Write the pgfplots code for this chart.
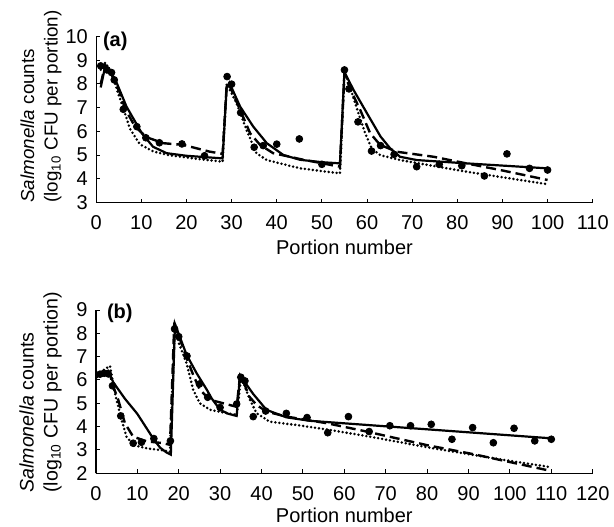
\documentclass[border=0pt]{standalone}
\usepackage{fontspec}
\setmainfont{Liberation Sans}
\usepackage{pgfplots}
\pgfplotsset{compat=1.18}
\begin{document}
\begin{tikzpicture}
\path[use as bounding box] (0,0) rectangle (307pt,263pt);
\pgfplotsset{
  myax/.style={
    scale only axis, axis lines=left,
    axis line style={-, line width=0.6pt, black},
    tick align=inside, major tick length=2pt,
    tick style={line width=0.5pt, black},
    /pgf/number format/assume math mode=true,
    xticklabel style={inner sep=0pt, yshift=-6.25pt},
    yticklabel style={inner sep=0pt, xshift=-4pt},
    xlabel={Portion number},
    ylabel={\textit{Salmonella} counts\\(log\textsubscript{10} CFU per portion)},
    clip=false,
  },
  fitA/.style={black, line width=1.1pt},
  fitB/.style={black, line width=1.2pt, dash pattern=on 5pt off 2.5pt},
  fitC/.style={black, line width=1.4pt, line cap=round, dash pattern=on 0pt off 2pt},
  obs/.style={only marks, mark=*, mark size=1.7pt, black},
}
% ---------------- panel (a)
\begin{axis}[myax,
  at={(48.1pt,161.75pt)}, anchor=south west,
  width=248.25pt, height=83pt,
  xmin=0, xmax=110, ymin=3, ymax=10,
  xtick={0,10,...,110}, ytick={3,4,...,10},
  xlabel style={at={(axis description cs:0.5,-0.226)}, anchor=north, inner sep=0pt},
  ylabel style={at={(axis description cs:-0.0689,-0.003)}, anchor=south west, align=left, inner sep=0pt, font=\fontsize{9.4}{11.8}\selectfont},
]
\addplot[fitA] coordinates {(1,7.85)(2,8.75)(4.2,8.2)(6.7,7.05)(10.1,5.92)(12.6,5.35)(15.6,5.08)(20,4.97)(28,4.86)
 (28.9,7.85)(29.5,8.05)(31.9,7.04)(34.8,6.2)(37.8,5.5)(41.5,5.0)(45.2,4.8)(50,4.7)(54,4.65)
 (55,8.5)(57,7.75)(60,6.76)(63,5.78)(65.1,5.29)(67.3,4.93)(71,4.79)(82,4.65)(100,4.44)};
\addplot[fitB] coordinates {(1,8.0)(2,8.8)(3,8.6)(4,8.15)(5.3,7.6)(6.4,6.95)(8.6,6.2)(11.2,5.75)(14.9,5.5)(19.3,5.43)(25,5.15)(28,5.05)
 (28.9,7.9)(29.3,8.03)(31.9,6.9)(34.1,5.92)(36.3,5.43)(39.2,5.08)(42.9,4.93)(45.2,4.83)(54,4.51)
 (55,8.45)(56.2,7.82)(58.5,6.9)(60.7,5.92)(62.9,5.43)(66.6,5.14)(74.7,4.93)(82,4.65)(89.5,4.37)(100,3.95)};
\addplot[fitC] coordinates {(1,8.6)(2,8.9)(3,8.6)(4,8.1)(5.6,7.2)(7.5,6.1)(9.7,5.45)(12.7,5.15)(16,5.0)(22,4.85)(28,4.72)
 (28.9,8.0)(31.1,7.19)(33.3,6.06)(35.5,5.08)(37.8,4.79)(40.7,4.65)(45.2,4.44)(54,4.23)
 (55,8.5)(56,8.0)(58.1,6.76)(59.6,5.92)(61,5.29)(62.9,5.0)(67.3,4.79)(82,4.3)(100,3.77)};
\addplot[obs] coordinates {(1,8.76)(2.4,8.59)(3.4,8.48)(4,8.17)(6,6.93)(9,6.20)(11,5.73)(14,5.52)(19,5.47)(24,4.97)
 (29,8.31)(30,7.99)(32,6.79)(35,5.33)(37,5.40)(40,5.46)(45,5.68)(50,4.61)
 (55,8.59)(56,7.79)(58,6.40)(61,5.17)(63,5.40)(66,5.03)(71,4.51)(76,4.61)(81,4.55)(86,4.12)(91,5.05)(96,4.44)(100,4.37)};
\node[font=\bfseries, anchor=west, inner sep=0pt] at (axis description cs:0.013,0.97) {(a)};
\end{axis}
% ---------------- panel (b)
\begin{axis}[myax,
  at={(47.95pt,26.35pt)}, anchor=south west,
  width=248.4pt, height=81.65pt,
  xmin=0, xmax=120, ymin=2, ymax=9,
  xtick={0,10,...,120}, ytick={2,3,...,9},
  xlabel style={at={(axis description cs:0.5,-0.2125)}, anchor=north, inner sep=0pt},
  ylabel style={at={(axis description cs:-0.0682,-0.1206)}, anchor=south west, align=left, inner sep=0pt, font=\fontsize{9.8}{12}\selectfont},
]
\addplot[fitA] coordinates {(0,6.1)(1.5,6.3)(3,6.4)(4.2,5.9)(7,5.2)(10,4.55)(12,4.0)(14,3.45)(15.5,3.1)(17,2.9)(18.1,2.8)
 (19.1,8.4)(21.9,7.08)(24.3,6.3)(26.8,5.58)(28,5.2)(30,4.72)(32,4.55)(34,4.46)
 (34.8,6.2)(35.4,6.05)(38,5.4)(41.2,4.72)(46,4.4)(51.7,4.25)(110,3.5)};
\addplot[fitB] coordinates {(0,6.1)(1.5,6.35)(2.5,6.45)(3.3,6.3)(4.2,5.72)(5.4,5.15)(7,4.15)(9,3.57)(12.3,3.37)(16.3,3.29)(17.9,3.22)
 (18.9,8.3)(20,7.9)(22,6.9)(23.5,6.22)(25.1,5.58)(27.6,5.15)(30.8,5.0)(34,4.85)
 (34.8,6.15)(35.5,6.0)(37,5.3)(38.8,4.93)(41.3,4.64)(46.1,4.43)(55.7,4.15)(65.4,3.79)(79.9,3.21)(91.2,2.82)(109.7,2.11)};
\addplot[fitC] coordinates {(0.5,6.2)(2,6.45)(3.4,6.6)(4.6,5.43)(6.2,4.29)(7.4,3.57)(9,3.21)(12.3,3.07)(15.5,3.0)(17.9,2.93)
 (19.1,8.4)(20,7.6)(21.9,6.72)(23.5,5.58)(25.1,5.0)(27.6,4.72)(31.6,4.58)(34,4.5)
 (35,6.0)(35.8,5.8)(37.2,5.15)(38.8,4.58)(42,4.21)(48.5,4.07)(56.5,3.86)(66.2,3.57)(81.5,3.07)(97.6,2.6)(110,2.26)};
\addplot[obs] coordinates {(1,6.25)(2,6.29)(3,6.26)(4,5.75)(6,4.46)(9,3.29)(11,3.33)(14,3.49)(18,3.39)
 (19,8.19)(20,7.86)(22,7.03)(25,5.83)(27,5.26)(30,4.82)(34,4.97)(35,6.12)(36,5.96)(38,4.43)(41,4.67)(46,4.57)
 (51,4.39)(56,3.74)(61,4.43)(66,3.79)(71,4.04)(76,4.04)(81,4.10)(86,3.46)(91,3.96)(96,3.31)(101,3.93)(106,3.39)(110,3.46)};
\node[font=\bfseries, anchor=west, inner sep=0pt] at (axis description cs:0.0217,0.982) {(b)};
\end{axis}
\end{tikzpicture}
\end{document}
